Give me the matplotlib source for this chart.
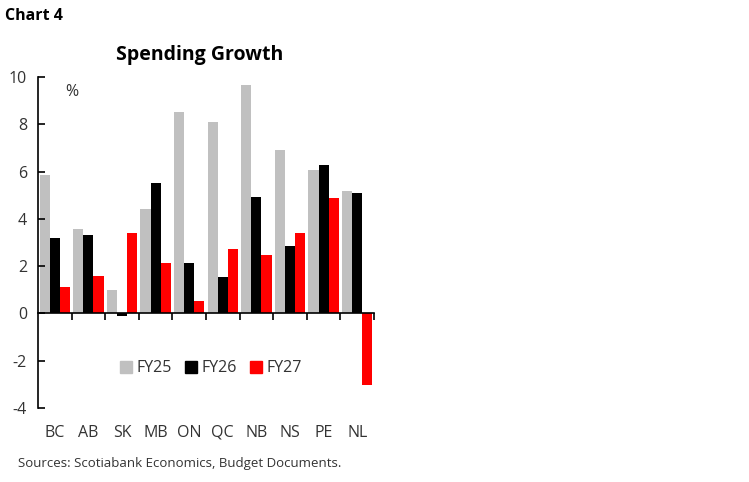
import numpy as np
import matplotlib
matplotlib.use("Agg")
from matplotlib import pyplot as plt
from matplotlib import transforms
from matplotlib.patches import Patch

provinces = ["BC", "AB", "SK", "MB", "ON", "QC", "NB", "NS", "PE", "NL"]
fy25 = [5.85, 3.58, 0.99, 4.4, 8.5, 8.08, 9.66, 6.9, 6.08, 5.19]
fy26 = [3.19, 3.3, -0.1, 5.5, 2.15, 1.55, 4.94, 2.84, 6.26, 5.09]
fy27 = [1.1, 1.6, 3.4, 2.15, 0.53, 2.74, 2.46, 3.4, 4.88, -3.01]
series = [("FY25", fy25, "#c0c0c0"), ("FY26", fy26, "#000000"), ("FY27", fy27, "#ff0000")]

plt.rcParams['font.family'] = ['Open Sans', 'DejaVu Sans']
plt.rcParams['axes.unicode_minus'] = False

fig = plt.figure(figsize=(7.49, 4.82), dpi=100)
ax = fig.add_axes([38/749, 1-408/482, 336/749, 331/482])

x = np.arange(len(provinces))
w = 0.3
for k, (name, vals, col) in enumerate(series):
    ax.bar(x + (k-1)*w, vals, width=w, color=col, label=name)

ax.set_xlim(-0.5, 9.5)
ax.set_ylim(-4, 10)
ax.set_yticks(range(-4, 11, 2))
ax.tick_params(axis='y', direction='in', length=5, width=1.2, labelsize=11.5, labelcolor='#333333', pad=8)
ax.spines['top'].set_visible(False)
ax.spines['right'].set_visible(False)
ax.spines['left'].set_linewidth(1.2)
ax.spines['bottom'].set_position(('data', 0))
ax.spines['bottom'].set_linewidth(1.2)
ax.set_xticks(list(x + 0.5))
ax.set_xticklabels([])
ax.tick_params(axis='x', direction='out', length=5, width=1.2)

# province names sit below the plot, not on the zero line
trans = transforms.blended_transform_factory(ax.transData, ax.transAxes)
for i, p in enumerate(provinces):
    ax.text(i, -0.075, p, transform=trans, ha='center', va='center', fontsize=11.5, color='#333333')

ax.text(0.08, 0.955, "%", transform=ax.transAxes, ha='left', va='center', fontsize=11.5, color='#333333')

handles = [Patch(color=c, label=n) for n, v, c in series]
ax.legend(handles=handles, loc='center', bbox_to_anchor=(0.515, 0.12), ncol=3, frameon=False,
          fontsize=11.5, handlelength=0.75, handleheight=0.75, handletextpad=0.3, columnspacing=0.8,
          labelcolor='#333333')

fig.text(200/749, 1-55/482, "Spending Growth", ha='center', va='center', fontsize=14, fontweight='bold')
fig.text(5/749, 1-16/482, "Chart 4", ha='left', va='center', fontsize=11.5, fontweight='bold')
fig.text(18/749, 1-464/482, "Sources: Scotiabank Economics, Budget Documents.", ha='left', va='center',
         fontsize=9.5, color='#333333')

fig.savefig("out.png", dpi=100)
